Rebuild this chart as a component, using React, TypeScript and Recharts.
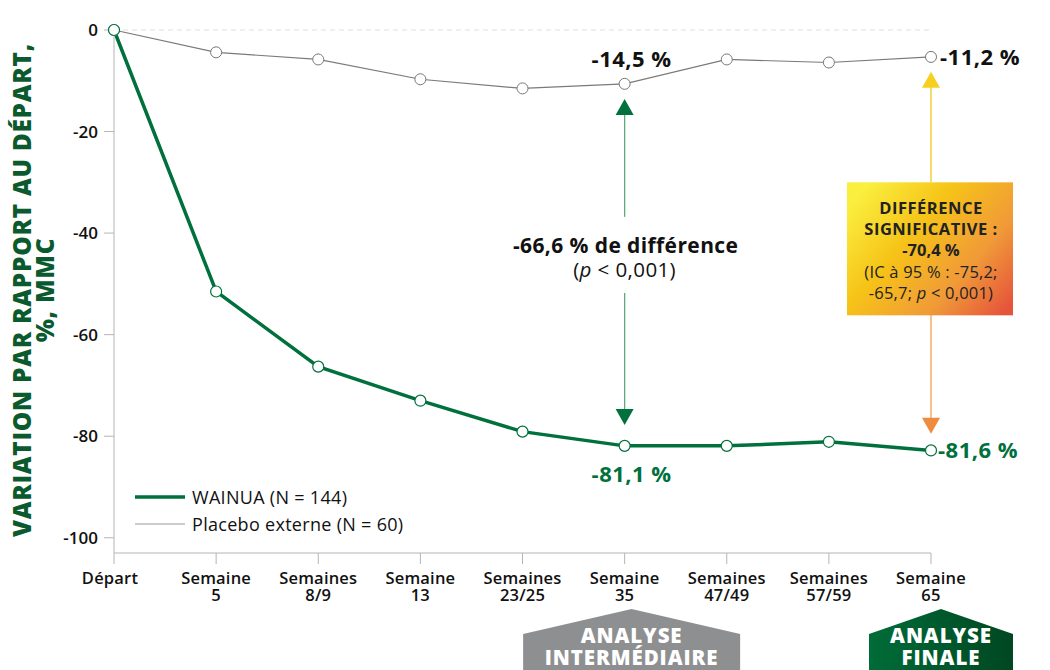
import React from "react"
import {
  LineChart,
  Line,
  XAxis,
  YAxis,
  ReferenceLine,
  ReferenceDot,
  Legend,
} from "recharts"

const categories = [
  "Départ",
  "Semaine 5",
  "Semaines 8/9",
  "Semaine 13",
  "Semaines 23/25",
  "Semaine 35",
  "Semaines 47/49",
  "Semaines 57/59",
  "Semaine 65",
]
const wainua = [0, -51.5, -66.3, -73.0, -79.1, -81.9, -81.9, -81.1, -82.8]
const placebo = [0, -4.4, -5.8, -9.7, -11.5, -10.6, -5.8, -6.4, -5.3]
const yTicks = [0, -20, -40, -60, -80, -100]

const interimLabel = "Semaine 35"
const finalLabel = "Semaine 65"

const data = categories.map((name, i) => ({
  name,
  wainua: wainua[i],
  placebo: placebo[i],
}))

const GREEN = "#00703c"
const DARK_GREEN = "#0a5a2e"
const FONT = "'Open Sans', Lato, sans-serif"

const arrowHead = (dir: "up" | "down", color: string) => (props: any) => {
  const { cx, cy } = props
  const h = 16
  const w = 9
  const pts =
    dir === "up"
      ? `${cx},${cy} ${cx - w},${cy + h} ${cx + w},${cy + h}`
      : `${cx},${cy} ${cx - w},${cy - h} ${cx + w},${cy - h}`
  return <polygon points={pts} fill={color} />
}

const textShape =
  (text: string, dx: number, dy: number, anchor: string, color: string, size = 22) =>
  (props: any) => (
    <text
      x={props.cx + dx}
      y={props.cy + dy}
      textAnchor={anchor}
      dominantBaseline="central"
      fontFamily={FONT}
      fontWeight={700}
      fontSize={size}
      letterSpacing={0.5}
      fill={color}
    >
      {text}
    </text>
  )

const diffShape = (props: any) => {
  const { cx, cy } = props
  return (
    <g fontFamily={FONT} fill="#111" textAnchor="middle" letterSpacing={0.4}>
      <text x={cx + 1} y={cy} dominantBaseline="central" fontWeight={700} fontSize={21}>
        -66,6 % de différence
      </text>
      <text x={cx} y={cy + 24} dominantBaseline="central" fontSize={20.5}>
        (<tspan fontStyle="italic">p</tspan> &lt; 0,001)
      </text>
    </g>
  )
}

const sigBox = (props: any) => {
  const { cx, cy } = props
  const w = 166
  const h = 133
  const x = cx - 84
  return (
    <g fontFamily={FONT} fill="#222" textAnchor="middle">
      <defs>
        <linearGradient id="sigGrad" x1="0" y1="0.2" x2="1" y2="0.9">
          <stop offset="0" stopColor="#faee3e" />
          <stop offset="0.35" stopColor="#f6c318" />
          <stop offset="0.7" stopColor="#f09a38" />
          <stop offset="1" stopColor="#e6553b" />
        </linearGradient>
      </defs>
      <rect x={x} y={cy} width={w} height={h} fill="url(#sigGrad)" />
      <text x={cx} y={cy + 25} dominantBaseline="central" fontWeight={700} fontSize={16.5} letterSpacing={0.5}>
        DIFFÉRENCE
      </text>
      <text x={cx} y={cy + 46} dominantBaseline="central" fontWeight={700} fontSize={16.5} letterSpacing={0.5}>
        SIGNIFICATIVE :
      </text>
      <text x={cx} y={cy + 67} dominantBaseline="central" fontWeight={700} fontSize={16.5}>
        -70,4 %
      </text>
      <text x={cx} y={cy + 89} dominantBaseline="central" fontSize={16.5} letterSpacing={0.2}>
        (IC à 95 % : -75,2;
      </text>
      <text x={cx} y={cy + 110} dominantBaseline="central" fontSize={16.5} letterSpacing={0.2}>
        -65,7; <tspan fontStyle="italic">p</tspan> &lt; 0,001)
      </text>
    </g>
  )
}

const Badge = ({ x, y, lines, fill }: { x: number; y: number; lines: string[]; fill: string }) => {
  const half = lines[1].length > 8 ? 108.5 : 72
  const pts = `${x},${y} ${x + half},${y + 25} ${x + half},${y + 70} ${x - half},${y + 70} ${x - half},${y + 25}`
  return (
    <g>
      <polygon points={pts} fill={fill} />
      {lines.map((l, i) => (
        <text
          key={l}
          x={x}
          y={y + 26 + i * 22}
          textAnchor="middle"
          dominantBaseline="central"
          fontFamily={FONT}
          fontWeight={800}
          fontSize={20.5}
          letterSpacing={0.9}
          fill="#fff"
        >
          {l}
        </text>
      ))}
    </g>
  )
}

const XTick = (props: any) => {
  const { x, y, payload } = props
  const value: string = payload.value
  const idx = value.indexOf(" ")
  const lines = idx < 0 ? [value] : [value.slice(0, idx), value.slice(idx + 1)]
  return (
    <g>
      {lines.map((l, i) => (
        <text
          key={l}
          x={idx < 0 ? x - 4 : x}
          y={y + 11 + i * 17}
          textAnchor="middle"
          dominantBaseline="central"
          fontFamily={FONT}
          fontWeight={600}
          fontSize={16.5}
          letterSpacing={0.2}
          fill="#111"
        >
          {l}
        </text>
      ))}
      {value === interimLabel && (
        <Badge x={x + 7} y={y + 43} lines={["ANALYSE", "INTERMÉDIAIRE"]} fill="#8e8f90" />
      )}
      {value === finalLabel && (
        <Badge x={x + 10} y={y + 43} lines={["ANALYSE", "FINALE"]} fill="url(#finalGrad)" />
      )}
    </g>
  )
}

const YLabel = () => (
  <text
    transform="translate(31, 290) rotate(-90)"
    textAnchor="middle"
    fontFamily={FONT}
    fontWeight={800}
    fontSize={24.5}
    letterSpacing={0.7}
    fill={DARK_GREEN}
  >
    <tspan x={0} dy={0}>VARIATION PAR RAPPORT AU DÉPART,</tspan>
    <tspan x={0} dy={23}>%, MMC</tspan>
  </text>
)

const LegendBox = () => (
  <div style={{ fontFamily: FONT, fontSize: 18, letterSpacing: 0.3, color: "#111" }}>
    {[
      { label: "WAINUA (N = 144)", color: GREEN, width: 3.5 },
      { label: "Placebo externe (N = 60)", color: "#999", width: 1.2 },
    ].map((r) => (
      <div key={r.label} style={{ display: "flex", alignItems: "center", height: 27 }}>
        <svg width={57} height={10}>
          <line x1={0} y1={5} x2={50} y2={5} stroke={r.color} strokeWidth={r.width} />
        </svg>
        <span>{r.label}</span>
      </div>
    ))}
  </div>
)

export default function App() {
  return (
    <div style={{ position: "absolute", left: 0, top: 0, width: 1050, height: 670, background: "#fff" }}>
      <LineChart
        width={1050}
        height={670}
        data={data}
        margin={{ top: 30, right: 119, bottom: 57, left: 0 }}
      >
        <defs>
          <linearGradient id="finalGrad" x1="0" y1="0" x2="1" y2="0">
            <stop offset="0" stopColor="#006c38" />
            <stop offset="1" stopColor="#004722" />
          </linearGradient>
        </defs>
        <XAxis
          dataKey="name"
          interval={0}
          tick={<XTick />}
          tickSize={11}
          height={60}
          stroke="#b5b5b5"
          tickLine={{ stroke: "#b5b5b5" }}
        />
        <YAxis
          type="number"
          domain={[-103, 0]}
          ticks={yTicks}
          width={114}
          tickSize={10}
          tickMargin={6}
          stroke="#b5b5b5"
          tick={{ fill: "#111", fontSize: 17, fontFamily: FONT, fontWeight: 600 }}
          label={<YLabel />}
        />
        <ReferenceLine y={0} stroke="#dedede" strokeDasharray="5 4" />

        {/* interim difference arrow */}
        <ReferenceLine
          segment={[{ x: interimLabel, y: -16.5 }, { x: interimLabel, y: -36.8 }]}
          stroke="#5ea97c"
          strokeWidth={1.3}
        />
        <ReferenceLine
          segment={[{ x: interimLabel, y: -51.8 }, { x: interimLabel, y: -74.8 }]}
          stroke="#5ea97c"
          strokeWidth={1.3}
        />
        <ReferenceDot x={interimLabel} y={-13.6} shape={arrowHead("up", GREEN)} />
        <ReferenceDot x={interimLabel} y={-77.8} shape={arrowHead("down", GREEN)} />
        <ReferenceDot x={interimLabel} y={-42.3} shape={diffShape} />

        {/* final difference arrow */}
        <ReferenceLine
          segment={[{ x: finalLabel, y: -11 }, { x: finalLabel, y: -30 }]}
          stroke="#f5c51c"
          strokeWidth={1.3}
        />
        <ReferenceLine
          segment={[{ x: finalLabel, y: -56 }, { x: finalLabel, y: -76.5 }]}
          stroke="#f2a050"
          strokeWidth={1.3}
        />
        <ReferenceDot x={finalLabel} y={-8.2} shape={arrowHead("up", "#f7cf1f")} />
        <ReferenceDot x={finalLabel} y={-79.5} shape={arrowHead("down", "#ef8b3e")} />
        <ReferenceDot x={finalLabel} y={-30} shape={sigBox} />

        <Line
          dataKey="placebo"
          name="Placebo externe (N = 60)"
          stroke="#7a7a7a"
          strokeWidth={1.2}
          dot={{ r: 5.5, fill: "#fff", stroke: "#777", strokeWidth: 1 }}
          isAnimationActive={false}
        />
        <Line
          dataKey="wainua"
          name="WAINUA (N = 144)"
          stroke={GREEN}
          strokeWidth={3.5}
          dot={{ r: 5.5, fill: "#fff", stroke: GREEN, strokeWidth: 1.2 }}
          isAnimationActive={false}
        />

        {/* value labels */}
        <ReferenceDot x={interimLabel} y={placebo[5]} shape={textShape("-14,5 %", 7, -26, "middle", "#111")} />
        <ReferenceDot x={finalLabel} y={placebo[8]} shape={textShape("-11,2 %", 9, -1, "start", "#111")} />
        <ReferenceDot x={interimLabel} y={wainua[5]} shape={textShape("-81,1 %", 7, 27, "middle", GREEN)} />
        <ReferenceDot x={finalLabel} y={wainua[8]} shape={textShape("-81,6 %", 7, -1, "start", GREEN)} />

        <Legend
          layout="vertical"
          align="center"
          verticalAlign="middle"
          content={<LegendBox />}
          wrapperStyle={{ left: 135, top: 483, width: 320, height: 60 }}
        />
      </LineChart>
    </div>
  )
}
